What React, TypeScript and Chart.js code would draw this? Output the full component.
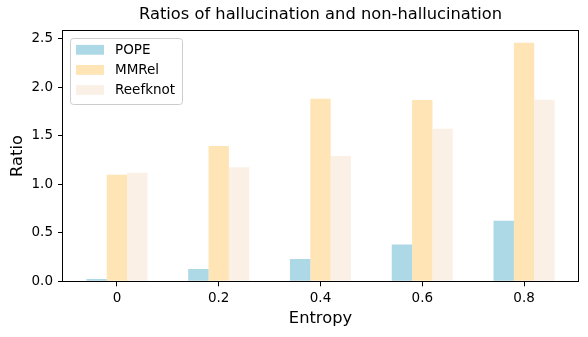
import React, { useEffect, useRef } from 'react';
import { Chart, registerables } from 'chart.js';

Chart.register(...registerables);

const categories = ['0', '0.2', '0.4', '0.6', '0.8'];
const seriesNames = ['POPE', 'MMRel', 'Reefknot'];
const popeValues = [0.024, 0.127, 0.23, 0.38, 0.624];
const mmrelValues = [1.098, 1.393, 1.88, 1.867, 2.457];
const reefknotValues = [1.118, 1.174, 1.29, 1.57, 1.87];
const seriesColors = ['#add8e6', '#ffe4b5', '#faf0e6'];
const yTickValues = [0, 0.5, 1.0, 1.5, 2.0, 2.5];

const FONT = "'DejaVu Sans', sans-serif";

const titleCenterPlugin = {
  id: 'titleCenter',
  afterLayout(chart: any) {
    const tb = chart.titleBlock;
    if (tb) {
      tb.left = chart.chartArea.left;
      tb.right = chart.chartArea.right;
      tb.width = tb.right - tb.left;
    }
  },
};

const spinesPlugin = {
  id: 'spines',
  afterDatasetsDraw(chart: any) {
    const { ctx, chartArea } = chart;
    const l = Math.round(chartArea.left) - 0.5;
    const t = Math.round(chartArea.top) - 0.5;
    const r = Math.round(chartArea.right) + 0.5;
    const b = Math.round(chartArea.bottom) + 0.5;
    ctx.save();
    ctx.strokeStyle = '#000';
    ctx.lineWidth = 1;
    ctx.strokeRect(l, t, r - l, b - t);
    ctx.restore();
  },
};

const legendPlugin = {
  id: 'mplLegend',
  afterDraw(chart: any) {
    const { ctx } = chart;
    const x = 70.5, y = 38.5, w = 112, h = 66, rad = 3;
    ctx.save();
    ctx.beginPath();
    ctx.moveTo(x + rad, y);
    ctx.lineTo(x + w - rad, y);
    ctx.quadraticCurveTo(x + w, y, x + w, y + rad);
    ctx.lineTo(x + w, y + h - rad);
    ctx.quadraticCurveTo(x + w, y + h, x + w - rad, y + h);
    ctx.lineTo(x + rad, y + h);
    ctx.quadraticCurveTo(x, y + h, x, y + h - rad);
    ctx.lineTo(x, y + rad);
    ctx.quadraticCurveTo(x, y, x + rad, y);
    ctx.closePath();
    ctx.fillStyle = 'rgba(255,255,255,0.8)';
    ctx.fill();
    ctx.strokeStyle = '#cccccc';
    ctx.lineWidth = 1;
    ctx.stroke();
    ctx.font = `13.5px ${FONT}`;
    ctx.textBaseline = 'middle';
    ctx.textAlign = 'left';
    chart.data.datasets.forEach((ds: any, i: number) => {
      const cy = 49.8 + i * 20.1;
      ctx.fillStyle = ds.backgroundColor;
      ctx.fillRect(76, cy - 4.9, 28, 9.8);
      ctx.fillStyle = '#000';
      ctx.fillText(ds.label, 115, cy + 0.5);
    });
    ctx.restore();
  },
};

export default function App() {
  const ref = useRef<HTMLCanvasElement | null>(null);

  useEffect(() => {
    document.body.style.margin = '0';
    const canvas = ref.current;
    if (!canvas) return;
    const values = [popeValues, mmrelValues, reefknotValues];
    const chart = new Chart(canvas, {
      type: 'bar',
      data: {
        datasets: seriesNames.map((name, si) => ({
          label: name,
          data: values[si].map((v, i) => ({ x: i, y: v })),
          backgroundColor: seriesColors[si],
          borderWidth: 0,
          categoryPercentage: 0.6,
          barPercentage: 1.0,
        })),
      },
      options: {
        responsive: false,
        animation: false,
        devicePixelRatio: 1,
        events: [],
        layout: { padding: { left: 0, right: 10, top: 0, bottom: 0 } },
        plugins: {
          legend: { display: false },
          tooltip: { enabled: false },
          title: {
            display: true,
            text: 'Ratios of hallucination and non-hallucination',
            color: '#000',
            font: { family: FONT, size: 16.3, weight: 'normal', lineHeight: 1.2 },
            padding: { top: 5.3, bottom: 5.9 },
          },
        },
        scales: {
          x: {
            type: 'linear',
            min: -0.53,
            max: 4.53,
            offset: false,
            grid: {
              display: true,
              offset: false,
              drawOnChartArea: false,
              drawTicks: true,
              tickLength: 5,
              tickColor: '#000',
              tickWidth: 1,
            },
            border: { display: false },
            afterBuildTicks: (scale: any) => {
              scale.ticks = categories.map((_, i) => ({ value: i }));
            },
            afterFit: (scale: any) => {
              scale.height = 337 - 281.3;
            },
            ticks: {
              color: '#000',
              font: { family: FONT, size: 13.5 },
              padding: 4.5,
              maxRotation: 0,
              autoSkip: false,
              callback: (_v: any, i: number) => categories[i],
            },
            title: {
              display: true,
              text: 'Entropy',
              color: '#000',
              font: { family: FONT, size: 16.3, lineHeight: 1.2 },
              padding: { top: 0, bottom: 8.7 },
            },
          },
          y: {
            type: 'linear',
            min: 0,
            max: 2.58,
            grid: {
              display: true,
              drawOnChartArea: false,
              drawTicks: true,
              tickLength: 5,
              tickColor: '#000',
              tickWidth: 1,
            },
            border: { display: false },
            afterBuildTicks: (scale: any) => {
              scale.ticks = yTickValues.map((v) => ({ value: v }));
            },
            afterFit: (scale: any) => {
              scale.width = 63;
            },
            ticks: {
              color: '#000',
              font: { family: FONT, size: 13.5 },
              padding: 5,
              callback: (v: any) => Number(v).toFixed(1),
            },
            title: {
              display: true,
              text: 'Ratio',
              color: '#000',
              font: { family: FONT, size: 16.3, lineHeight: 1.2 },
              padding: { top: 7.7, bottom: 0 },
            },
          },
        },
      },
      plugins: [titleCenterPlugin, spinesPlugin, legendPlugin],
    } as any);
    return () => chart.destroy();
  }, []);

  return (
    <canvas
      ref={ref}
      width={588}
      height={337}
      style={{ display: 'block', width: 588, height: 337 }}
    />
  );
}
